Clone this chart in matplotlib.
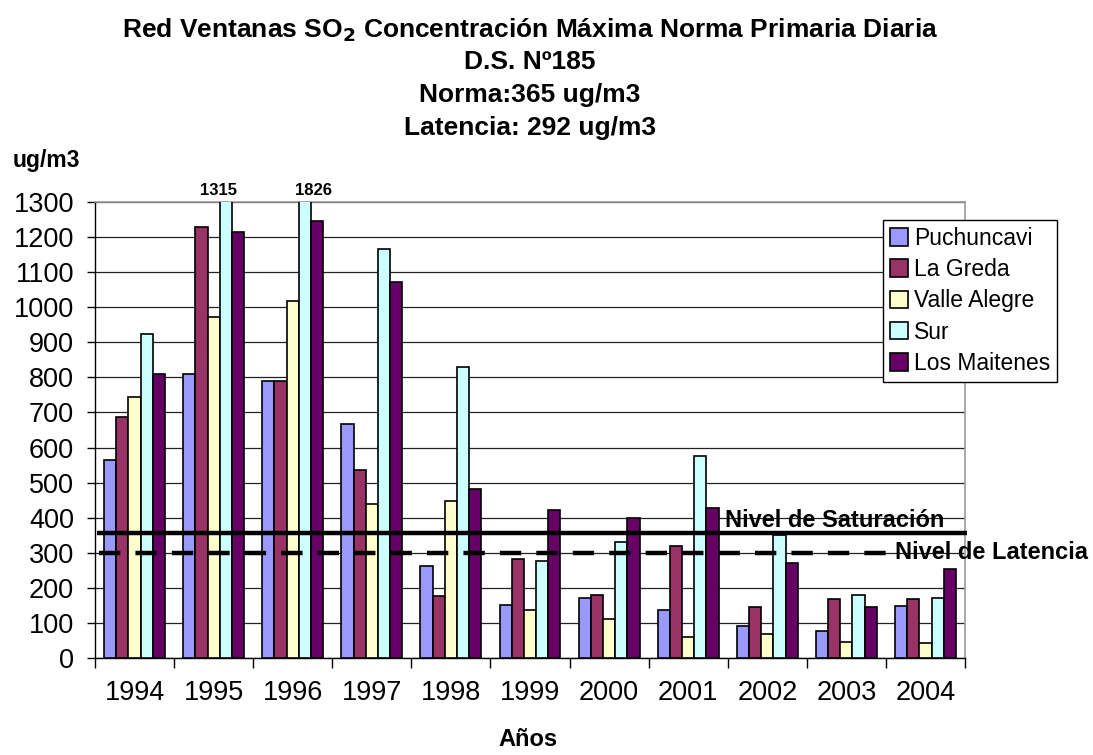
import matplotlib
matplotlib.use("Agg")
import matplotlib.pyplot as plt
import numpy as np

plt.rcParams['font.family'] = ['Liberation Sans', 'DejaVu Sans']

years = ['1994', '1995', '1996', '1997', '1998', '1999', '2000', '2001', '2002', '2003', '2004']
series_names = ['Puchuncavi', 'La Greda', 'Valle Alegre', 'Sur', 'Los Maitenes']
puchuncavi = [564, 811, 789, 667, 262, 150, 171, 138, 92, 76, 147]
la_greda = [686, 1229, 791, 537, 176, 282, 180, 319, 145, 167, 168]
valle_alegre = [745, 972, 1018, 438, 449, 138, 110, 61, 69, 47, 44]
sur = [923, 1315, 1826, 1166, 830, 277, 331, 577, 350, 180, 170]
los_maitenes = [811, 1215, 1247, 1071, 482, 423, 398, 428, 270, 145, 253]
colors = ['#9999FF', '#993366', '#FFFFCC', '#CCFFFF', '#660066']
saturacion = 355
latencia = 300
y_ticks = list(range(0, 1301, 100))

data = [puchuncavi, la_greda, valle_alegre, sur, los_maitenes]

fig = plt.figure(figsize=(10.93, 7.55), dpi=100)
ax = fig.add_axes([95/1093, 1-658/755, 870/1093, 456/755])

x = np.arange(len(years))
w = 0.154
for j, (vals, name, c) in enumerate(zip(data, series_names, colors)):
    ax.bar(x + (j - 2) * w, vals, width=w, color=c, edgecolor='black',
           linewidth=1.2, label=name, zorder=3)

ax.set_xlim(-0.5, len(years) - 0.5)
ax.set_ylim(0, 1300)
ax.set_yticks(y_ticks)
ax.set_yticklabels([str(v) for v in y_ticks], fontsize=19.5)
ax.yaxis.grid(True, color='#222222', linewidth=0.9, zorder=0)
ax.set_axisbelow(True)

ax.set_xticks(x)
ax.set_xticklabels(years, fontsize=19.5)
ax.set_xticks(np.arange(-0.5, len(years)), minor=True)
ax.tick_params(axis='x', which='major', length=0, pad=16)
ax.tick_params(axis='x', which='minor', length=7, width=1, direction='out')
ax.tick_params(axis='y', length=6, width=1, direction='out', pad=9)

for s in ['top', 'right']:
    ax.spines[s].set_color('#999999')
    ax.spines[s].set_linewidth(1.2)
for s in ['left', 'bottom']:
    ax.spines[s].set_color('black')
    ax.spines[s].set_linewidth(1.0)

# labels for clipped bars (Excel places them slightly off the bar centre)
label_shift = {1: -0.09, 2: 0.11}
for i, v in enumerate(sur):
    if v > 1300:
        ax.text(x[i] + w + label_shift.get(i, 0), 1312, str(v), ha='center',
                va='bottom', fontsize=12, fontweight='bold', clip_on=False)

# reference lines
ax.plot([-0.47, len(years) - 0.48], [saturacion, saturacion], color='black',
        linewidth=3.2, solid_capstyle='butt', zorder=4, clip_on=False)
ax.plot([-0.45, 9.5], [latencia, latencia], color='black', linewidth=3.2,
        dashes=(4.8, 3.4), zorder=4)
ax.text(7.47, saturacion + 5, 'Nivel de Saturación', fontsize=17,
        fontweight='bold', ha='left', va='bottom', zorder=5)
ax.text(9.62, latencia, 'Nivel de Latencia', fontsize=17,
        fontweight='bold', ha='left', va='center', zorder=5, clip_on=False)

leg = ax.legend(loc='upper left', bbox_to_anchor=(883/1093, 1-220/755),
                bbox_transform=fig.transFigure, fontsize=16.5, frameon=True,
                fancybox=False, edgecolor='black', framealpha=1,
                handlelength=0.8, handleheight=0.8, handletextpad=0.25,
                borderpad=0.3, labelspacing=0.36, borderaxespad=0)
leg.get_frame().set_linewidth(1.0)
leg.set_zorder(6)

tfs = 19
fig.text(530/1093, 1-30/755,
         'Red Ventanas SO$_\\mathbf{2}$ Concentración Máxima Norma Primaria Diaria',
         ha='center', va='center', fontsize=tfs, fontweight='bold')
fig.text(530/1093, 1-62/755, 'D.S. Nº185', ha='center', va='center',
         fontsize=tfs, fontweight='bold')
fig.text(530/1093, 1-95/755, 'Norma:365 ug/m3', ha='center', va='center',
         fontsize=tfs, fontweight='bold')
fig.text(530/1093, 1-128/755, 'Latencia: 292 ug/m3', ha='center', va='center',
         fontsize=tfs, fontweight='bold')
fig.text(13/1093, 1-160/755, 'ug/m3', ha='left', va='center', fontsize=16.5,
         fontweight='bold')
fig.text(528/1093, 1-740/755, 'Años', ha='center', va='center', fontsize=17,
         fontweight='bold')

fig.savefig('out.png', dpi=100)
